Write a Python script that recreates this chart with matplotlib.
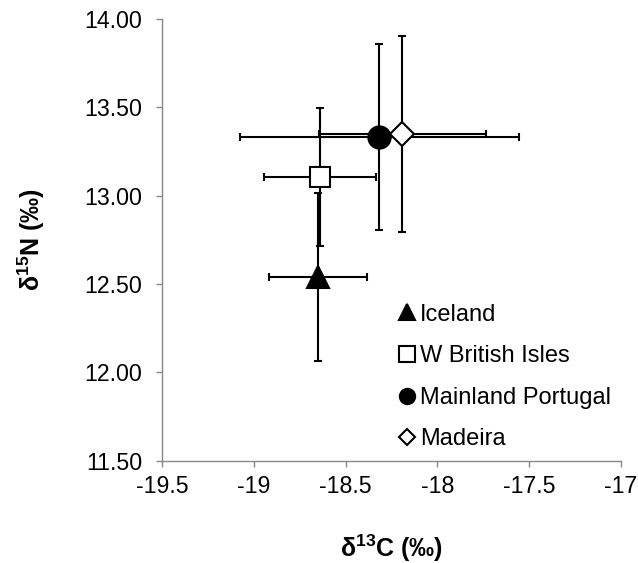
import matplotlib
matplotlib.use("Agg")
import matplotlib.pyplot as plt
from matplotlib.lines import Line2D

plt.rcParams['font.family'] = ['Liberation Sans', 'DejaVu Sans']
plt.rcParams['mathtext.fontset'] = 'custom'
plt.rcParams['mathtext.rm'] = 'Liberation Sans'
plt.rcParams['mathtext.bf'] = 'Liberation Sans:bold'

groups = ["Iceland", "W British Isles", "Mainland Portugal", "Madeira"]
d13C = [-18.65, -18.64, -18.316, -18.19]
d15N = [12.54, 13.105, 13.333, 13.35]
d13C_err = [0.265, 0.307, 0.759, 0.457]
d15N_err = [0.474, 0.392, 0.525, 0.555]

markers = ['^', 's', 'o', 'D']
faces = ['black', 'white', 'black', 'white']
sizes = [16, 15, 16, 12]
leg_sizes = [11, 11, 11, 8]

fig = plt.figure(figsize=(6.38, 5.63), dpi=100)
ax = fig.add_axes([0.254, 0.182, 0.719, 0.784])

for i in range(len(groups)):
    ax.errorbar(d13C[i], d15N[i], xerr=d13C_err[i], yerr=d15N_err[i],
                fmt='none', ecolor='black', elinewidth=1.5, capsize=3,
                capthick=1.5, zorder=2 + i)
    ax.plot(d13C[i], d15N[i], marker=markers[i], markersize=sizes[i],
            markerfacecolor=faces[i], markeredgecolor='black',
            markeredgewidth=1.5, linestyle='none', zorder=3 + i)

ax.set_xlim(-19.5, -17)
ax.set_ylim(11.5, 14.0)
ax.set_xticks([-19.5, -19, -18.5, -18, -17.5, -17])
ax.set_xticklabels(['-19.5', '-19', '-18.5', '-18', '-17.5', '-17'])
ax.set_yticks([11.5, 12.0, 12.5, 13.0, 13.5, 14.0])
ax.set_yticklabels(['11.50', '12.00', '12.50', '13.00', '13.50', '14.00'])
ax.tick_params(axis='both', labelsize=16.7, color='#888888', length=4.5,
               width=1, direction='out')
ax.tick_params(axis='y', pad=10)
ax.tick_params(axis='x', pad=6)
for s in ['top', 'right']:
    ax.spines[s].set_visible(False)
for s in ['left', 'bottom']:
    ax.spines[s].set_color('#888888')
    ax.spines[s].set_linewidth(1)

ax.set_xlabel(r'δ$^{\mathbf{13}}$C (‰)', fontsize=18, fontweight='bold', labelpad=25)
ax.set_ylabel(r'δ$^{\mathbf{15}}$N (‰)', fontsize=18, fontweight='bold', labelpad=27)

handles = [Line2D([], [], marker=markers[i], markersize=leg_sizes[i],
                  markerfacecolor=faces[i], markeredgecolor='black',
                  markeredgewidth=1.5, linestyle='none')
           for i in range(len(groups))]
ax.legend(handles, groups, loc='lower left', bbox_to_anchor=(0.484, 0.0),
          frameon=False, fontsize=17, handletextpad=0.0, labelspacing=0.83,
          handlelength=1.1, borderaxespad=0.03)

fig.savefig('out.png', dpi=100)
